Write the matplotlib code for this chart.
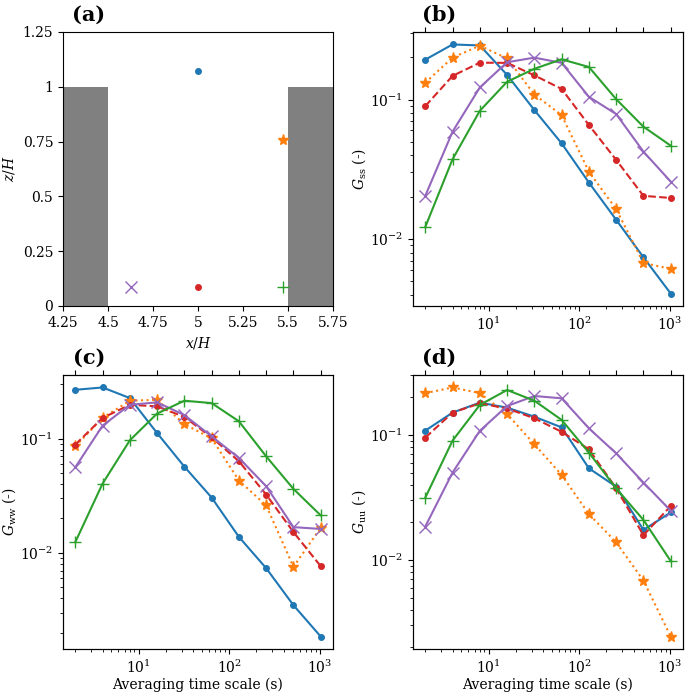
import numpy as np
import matplotlib
matplotlib.use("Agg")
import matplotlib.pyplot as plt
from matplotlib.ticker import NullLocator

plt.rcParams['font.family'] = ['DejaVu Serif']
plt.rcParams['mathtext.fontset'] = 'dejavuserif'
plt.rcParams['font.size'] = 10

# ---- Data ----
tau = [2, 4, 8, 16, 32, 64, 128, 256, 512, 1024]

# panel (a): measurement locations
loc_x = {'blue': 5.0, 'orange': 5.47, 'red': 5.0, 'purple': 4.625, 'green': 5.47}
loc_z = {'blue': 1.07, 'orange': 0.757, 'red': 0.085, 'purple': 0.085, 'green': 0.085}
building_left = [4.25, 5.5]
building_width = [0.25, 0.25]
building_height = [1.0, 1.0]

# panel (b): G_ss
gss_blue = [0.193, 0.248, 0.244, 0.150, 0.084, 0.0485, 0.0254, 0.01374, 0.0074, 0.00407]
gss_orange = [0.132, 0.1995, 0.243, 0.197, 0.1086, 0.0773, 0.0304, 0.01637, 0.00674, 0.00611]
gss_red = [0.0896, 0.1476, 0.1836, 0.183, 0.149, 0.119, 0.0656, 0.0369, 0.0204, 0.0197]
gss_purple = [0.0204, 0.0588, 0.122, 0.185, 0.1995, 0.183, 0.1045, 0.0786, 0.0423, 0.0258]
gss_green = [0.0122, 0.0373, 0.0830, 0.134, 0.166, 0.194, 0.171, 0.1005, 0.0638, 0.0467]

# panel (c): G_ww
gww_blue = [0.268, 0.281, 0.227, 0.112, 0.0569, 0.0305, 0.0138, 0.00734, 0.00348, 0.00185]
gww_orange = [0.0857, 0.152, 0.215, 0.219, 0.134, 0.1006, 0.043, 0.026, 0.00755, 0.0166]
gww_red = [0.0887, 0.152, 0.198, 0.192, 0.155, 0.1028, 0.0634, 0.0324, 0.0152, 0.00764]
gww_purple = [0.0561, 0.130, 0.198, 0.208, 0.161, 0.1048, 0.0678, 0.0383, 0.0168, 0.0162]
gww_green = [0.0124, 0.0404, 0.0967, 0.166, 0.215, 0.205, 0.142, 0.070, 0.0363, 0.0213]

# panel (d): G_uu
guu_blue = [0.1083, 0.151, 0.1815, 0.1655, 0.140, 0.115, 0.0541, 0.0386, 0.0174, 0.0240]
guu_orange = [0.216, 0.240, 0.216, 0.147, 0.0842, 0.0479, 0.0233, 0.01384, 0.00684, 0.00244]
guu_red = [0.0952, 0.151, 0.179, 0.163, 0.136, 0.106, 0.0768, 0.0374, 0.0158, 0.0270]
guu_purple = [0.0185, 0.050, 0.108, 0.1705, 0.205, 0.1965, 0.113, 0.0713, 0.0416, 0.0248]
guu_green = [0.0315, 0.0901, 0.174, 0.229, 0.188, 0.132, 0.0722, 0.0374, 0.0209, 0.0098]

styles = {
    'blue':   dict(color='C0', ls='-',  marker='o', ms=4),
    'orange': dict(color='C1', ls=':',  marker='*', ms=8),
    'red':    dict(color='C3', ls='--', marker='o', ms=4),
    'purple': dict(color='C4', ls='-',  marker='x', ms=8),
    'green':  dict(color='C2', ls='-',  marker='+', ms=8),
}
order = ['blue', 'orange', 'red', 'purple', 'green']

W, H = 685, 693
fig = plt.figure(figsize=(W / 100, H / 100), dpi=100)

def box(l, t, r, b):
    return [l / W, 1 - b / H, (r - l) / W, (b - t) / H]

ax_a = fig.add_axes(box(63, 32, 333, 306))
ax_b = fig.add_axes(box(413, 32, 683, 306))
ax_c = fig.add_axes(box(63, 375, 333, 649))
ax_d = fig.add_axes(box(413, 375, 683, 649))

# panel (a)
ax_a.bar(building_left, building_height, width=building_width, align='edge', color='gray')
for k in order:
    st = styles[k]
    ax_a.plot([loc_x[k]], [loc_z[k]], ls='none', marker=st['marker'], ms=st['ms'], color=st['color'])
ax_a.set_xlim(4.25, 5.75)
ax_a.set_ylim(0, 1.25)
xt = [4.25, 4.5, 4.75, 5, 5.25, 5.5, 5.75]
yt = [0, 0.25, 0.5, 0.75, 1, 1.25]
ax_a.set_xticks(xt)
ax_a.set_xticklabels(['%g' % v for v in xt])
ax_a.set_yticks(yt)
ax_a.set_yticklabels(['%g' % v for v in yt])
ax_a.set_xlabel(r'$x/H$')
ax_a.set_ylabel(r'$z/H$')

panels = [
    (ax_b, [gss_blue, gss_orange, gss_red, gss_purple, gss_green], r'$G_{\rm ss}$ (-)', False),
    (ax_c, [gww_blue, gww_orange, gww_red, gww_purple, gww_green], r'$G_{\rm ww}$ (-)', True),
    (ax_d, [guu_blue, guu_orange, guu_red, guu_purple, guu_green], r'$G_{\rm uu}$ (-)', True),
]
for ax, series, ylab, showx in panels:
    for k, vals in zip(order, series):
        ax.plot(tau, vals, **styles[k])
    ax.set_xscale('log')
    ax.set_yscale('log')
    ax.set_ylabel(ylab, labelpad=1.5)
    if showx:
        ax.set_xlabel('Averaging time scale (s)', labelpad=1.5)
    top = ax.twiny()
    top.set_xscale('log')
    top.set_xlim(ax.get_xlim())
    top.set_xticks(tau)
    top.set_xticklabels([])
    top.xaxis.set_minor_locator(NullLocator())

for ax, lab in [(ax_a, '(a)'), (ax_b, '(b)'), (ax_c, '(c)'), (ax_d, '(d)')]:
    bb = ax.get_position()
    fig.text(bb.x0 + 26 / W, bb.y1 + 17 / H, lab, fontsize=15, fontweight='bold',
             ha='center', va='center')

fig.savefig('out.png', dpi=100)
